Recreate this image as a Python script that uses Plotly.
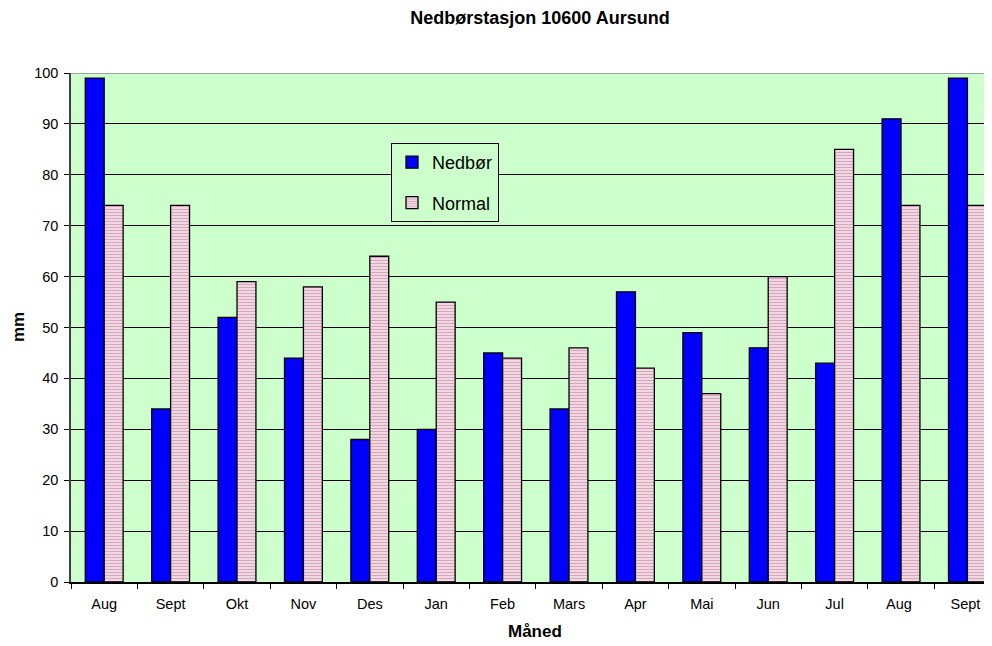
import plotly.graph_objects as go

months = ["Aug", "Sept", "Okt", "Nov", "Des", "Jan", "Feb", "Mars", "Apr", "Mai", "Jun", "Jul", "Aug ", "Sept "]
nedbor = [99, 34, 52, 44, 28, 30, 45, 34, 57, 49, 46, 43, 91, 99]
normal = [74, 74, 59, 58, 64, 55, 44, 46, 42, 37, 60, 85, 74, 74]

FONT = "Arial, Liberation Sans, sans-serif"

# page body has an 8px margin: figure is placed at (8, 8) in the window
W, H = 984, 638
L, T, B = 63, 65, 64
PW, PH = W - L, H - T - B  # 921 x 509

fig = go.Figure()
fig.add_trace(go.Bar(
    x=months, y=nedbor, name="Nedbør", legendgroup="a",
    marker=dict(color="#0000FF", line=dict(color="black", width=1.3)),
))
fig.add_trace(go.Bar(
    x=months, y=normal, name="Normal", legendgroup="b",
    marker=dict(color="#f5e0e8", line=dict(color="black", width=1.3),
                pattern=dict(shape="-", size=3, solidity=0.45,
                             fgcolor="#d6a6bc", bgcolor="#f6e2ea", fillmode="replace")),
))

fig.update_layout(
    width=W, height=H,
    margin=dict(l=L, r=0, t=T, b=B),
    paper_bgcolor="white", plot_bgcolor="#CCFFCC",
    font=dict(family=FONT, size=14.5, color="black"),
    barmode="group", bargap=0.43, bargroupgap=0,
    title=dict(text="<b>Nedbørstasjon 10600 Aursund</b>", x=532 / W, xanchor="center",
               y=1 - 10 / H, yanchor="middle", font=dict(size=18, family=FONT)),
    showlegend=True,
    legend=dict(x=(391 - 71) / PW, y=(582 - 143) / PH, xanchor="left", yanchor="top",
                bgcolor="#CCFFCC", bordercolor="black", borderwidth=1,
                font=dict(size=18, family=FONT), traceorder="grouped",
                tracegroupgap=14, itemwidth=30),
    xaxis=dict(
        type="category", range=[-0.5, 13.37], autorange=False,
        tickson="boundaries", ticks="outside", ticklen=5, tickcolor="black",
        showline=True, linecolor="black", linewidth=1.5,
        showgrid=False, tickfont=dict(size=14.5), ticklabelstandoff=8,
    ),
    yaxis=dict(
        range=[0, 100], autorange=False, dtick=10, tick0=0,
        ticks="outside", ticklen=5, tickcolor="black",
        showline=True, linecolor="#404040", linewidth=1.5,
        showgrid=True, gridcolor="black", gridwidth=1, zeroline=False,
        tickfont=dict(size=14.5), ticklabelstandoff=3,
    ),
    annotations=[
        dict(text="<b>Måned</b>", xref="paper", yref="paper",
             x=(535 - 71) / PW, y=-(631 - 582) / PH, xanchor="center", yanchor="middle",
             showarrow=False, font=dict(size=17, family=FONT)),
        dict(text="<b>mm</b>", xref="paper", yref="paper", textangle=-90,
             x=(18 - 71) / PW, y=(582 - 327) / PH, xanchor="center", yanchor="middle",
             showarrow=False, font=dict(size=17, family=FONT)),
    ],
)
fig.add_shape(type="line", xref="paper", yref="y", x0=0, x1=1, y0=100, y1=100,
              line=dict(color="#a0a0a0", width=2), layer="above")

fig.write_html("out.html")
